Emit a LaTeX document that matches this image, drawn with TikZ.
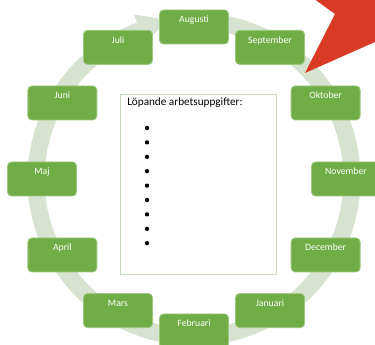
\documentclass[tikz,border=0pt]{standalone}
\usepackage{fontspec}
\setmainfont{Carlito}
\usepackage{tikz}
\definecolor{leaf}{HTML}{70AD47}
\definecolor{leafl}{HTML}{9CC87E}
\definecolor{ringc}{HTML}{D7E3D0}
\definecolor{frame}{HTML}{C9DBBD}
\definecolor{alarm}{HTML}{D93A26}

\begin{document}
\begin{tikzpicture}[x=0.75pt,y=0.75pt,font=\fontsize{7.3}{8}\selectfont,
   month/.style={draw=leafl,fill=leaf,text=white,rounded corners=3pt,line width=0.6pt,minimum width=51.75pt,inner xsep=0pt,inner ysep=2pt,text height=7.75pt,text depth=13.75pt},
   dot/.style={circle,fill=black,inner sep=0pt,minimum size=3.2pt}]
  \clip (-194,-166) rectangle (181,179);
  % cycle ring with its head
  \draw[ringc,line width=12.75pt] (85:158) arc[start angle=85,end angle=-250,radius=158];
  \fill[ringc] (110:145) -- (110:175) -- (99:161) -- cycle;
  % months
  \foreach \m [count=\i from 0] in {Augusti,September,Oktober,November,December,Januari,Februari,Mars,April,Maj,Juni,Juli}
    \node[month] (m\i) at ({90-30*\i}:152) {\m};
  % task list
  \node[draw=frame,fill=white,line width=0.6pt,minimum width=117pt,minimum height=135pt] (tasks) at (4,-5) {};
  \node[anchor=west,inner sep=0pt,font=\fontsize{8.4}{10}\selectfont] (title) at (-67,76) {Löpande arbetsuppgifter:};
  \foreach \i in {0,...,8}
    \node[dot] (b\i) at (-47,{51-14.4*\i}) {};
  % red pointer
  \fill[alarm] (116,183) -- (141,165) -- (111,106) -- (190,141) -- (190,190) -- cycle;
\end{tikzpicture}
\end{document}
